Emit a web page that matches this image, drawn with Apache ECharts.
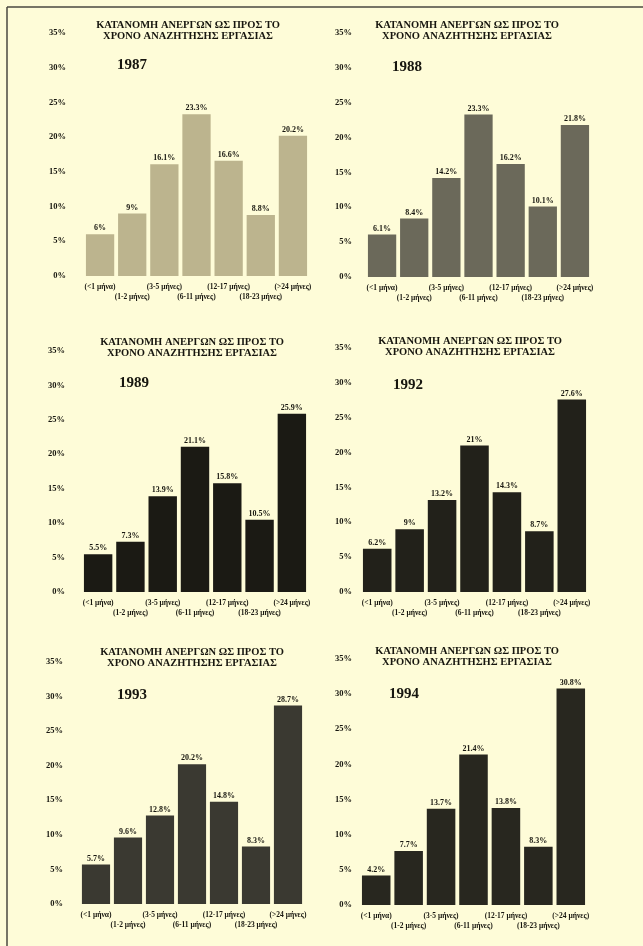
<!DOCTYPE html>
<html>
<head>
<meta charset="utf-8">
<script src="https://cdn.jsdelivr.net/npm/echarts@6/dist/echarts.min.js"></script>
<style>
  html, body { margin: 0; padding: 0; background: #fefcd8; }
  #chart { width: 643px; height: 946px; }
</style>
</head>
<body>
<div id="chart"></div>
<script>
// κατηγορίες χρόνου αναζήτησης
const categories = ['(<1 μήνα)', '(1-2 μήνες)', '(3-5 μήνες)', '(6-11 μήνες)', '(12-17 μήνες)', '(18-23 μήνες)', '(>24 μήνες)'];
const years = ['1987', '1988', '1989', '1992', '1993', '1994'];

const values1987 = [6, 9, 16.1, 23.3, 16.6, 8.8, 20.2];
const values1988 = [6.1, 8.4, 14.2, 23.3, 16.2, 10.1, 21.8];
const values1989 = [5.5, 7.3, 13.9, 21.1, 15.8, 10.5, 25.9];
const values1992 = [6.2, 9, 13.2, 21, 14.3, 8.7, 27.6];
const values1993 = [5.7, 9.6, 12.8, 20.2, 14.8, 8.3, 28.7];
const values1994 = [4.2, 7.7, 13.7, 21.4, 13.8, 8.3, 30.8];

const allValues = [values1987, values1988, values1989, values1992, values1993, values1994];

const titleText = 'ΚΑΤΑΝΟΜΗ ΑΝΕΡΓΩΝ ΩΣ ΠΡΟΣ ΤΟ\nΧΡΟΝΟ ΑΝΑΖΗΤΗΣΗΣ ΕΡΓΑΣΙΑΣ';

// θέση κάθε πάνελ (px)
const panels = [
  { left: 84,  top: 33,  height: 243, width: 225, yMargin: 18, titleX: 188, titleY: 31,  yearX: 132, yearY: 65,  color: '#bcb48e' },
  { left: 366, top: 33,  height: 244, width: 225, yMargin: 14, titleX: 467, titleY: 31,  yearX: 407, yearY: 67,  color: '#6b695a' },
  { left: 82,  top: 351, height: 241, width: 226, yMargin: 17, titleX: 192, titleY: 348, yearX: 134, yearY: 383, color: '#1b1a14' },
  { left: 361, top: 348, height: 244, width: 227, yMargin: 9,  titleX: 470, titleY: 347, yearX: 408, yearY: 385, color: '#22211a' },
  { left: 80,  top: 662, height: 242, width: 224, yMargin: 17, titleX: 192, titleY: 658, yearX: 132, yearY: 695, color: '#3a3931' },
  { left: 360, top: 659, height: 246, width: 227, yMargin: 8,  titleX: 467, titleY: 657, yearX: 404, yearY: 694, color: '#28271f' }
];

const serif = '"Liberation Serif", "DejaVu Serif", serif';
const ink = '#17160f';

const chart = echarts.init(document.getElementById('chart'));

const grid = [], xAxis = [], yAxis = [], series = [], graphic = [];

panels.forEach((p, i) => {
  grid.push({ left: p.left, top: p.top, width: p.width, height: p.height, containLabel: false });
  xAxis.push({
    type: 'category',
    gridIndex: i,
    data: categories,
    axisLine: { show: false },
    axisTick: { show: false },
    axisLabel: {
      interval: 0,
      margin: 6,
      color: ink,
      fontFamily: serif,
      fontWeight: 'bold',
      fontSize: 7.5,
      lineHeight: 10,
      formatter: (val, idx) => (idx % 2 === 1 ? '\n' + val : val)
    }
  });
  yAxis.push({
    type: 'value',
    gridIndex: i,
    min: 0,
    max: 35,
    interval: 5,
    axisLine: { show: false },
    axisTick: { show: false },
    splitLine: { show: false },
    axisLabel: {
      margin: p.yMargin,
      color: ink,
      fontFamily: serif,
      fontWeight: 'bold',
      fontSize: 8.5,
      formatter: '{value}%'
    }
  });
  series.push({
    type: 'bar',
    xAxisIndex: i,
    yAxisIndex: i,
    data: allValues[i],
    barCategoryGap: '12%',
    itemStyle: { color: p.color },
    label: {
      show: true,
      position: 'top',
      distance: 2,
      color: ink,
      fontFamily: serif,
      fontWeight: 'bold',
      fontSize: 8,
      formatter: d => d.value + '%'
    },
    silent: true,
    animation: false
  });
  graphic.push({
    type: 'text',
    x: p.titleX,
    y: p.titleY,
    style: {
      text: titleText,
      align: 'center',
      verticalAlign: 'middle',
      font: 'bold 10.5px ' + serif,
      lineHeight: 10.5,
      fill: ink
    }
  });
  graphic.push({
    type: 'text',
    x: p.yearX,
    y: p.yearY,
    style: {
      text: years[i],
      align: 'center',
      verticalAlign: 'middle',
      font: 'bold 15px ' + serif,
      fill: ink
    }
  });
});

// πλαίσιο
graphic.push({ type: 'line', shape: { x1: 7, y1: 7, x2: 643, y2: 7 }, style: { stroke: '#4a4840', lineWidth: 1.5 } });
graphic.push({ type: 'line', shape: { x1: 7, y1: 7, x2: 7, y2: 946 }, style: { stroke: '#4a4840', lineWidth: 1.5 } });

chart.setOption({
  backgroundColor: '#fefcd8',
  animation: false,
  grid: grid,
  xAxis: xAxis,
  yAxis: yAxis,
  series: series,
  graphic: graphic
});
</script>
</body>
</html>
